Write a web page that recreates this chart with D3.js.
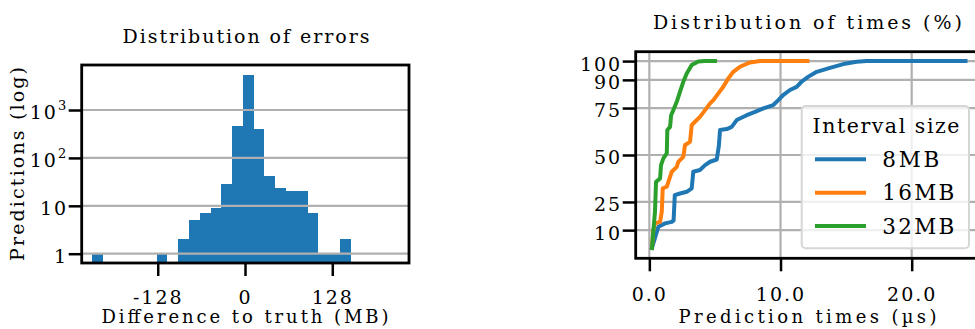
<!DOCTYPE html>
<html><head><meta charset="utf-8">
<script src="https://cdn.jsdelivr.net/npm/d3@7"></script>
<style>
html,body{margin:0;padding:0;background:#fff;}
svg{display:block;background:#fff;}
text{font-family:"DejaVu Serif",serif;fill:#000;}
</style></head><body>
<svg id="chart" width="975" height="329"></svg>
<script>
// ---------- DATA ----------
// Left: histogram of prediction errors (MB), log counts
const errorBinEdges = [-224.3,-208.5,-192.7,-176.9,-161.1,-145.3,-129.5,-113.7,-97.9,-82.1,-66.3,-50.5,-34.7,-18.9,-3.1,12.7,28.5,44.3,60.1,75.9,91.7,107.5,123.3,139.1,154.9];
const errorCounts   = [1,0,0,0,0,0,1,0,2,5,7,9,28,460,5300,400,41,24,20,20,7,1,1,2];
const errorXTicks = [-128, 0, 128];
const errorXTickLabels = ["-128", "0", "128"];
const errorYTicks = [1, 10, 100, 1000];
const errorYTickBase = ["1", "10", "10", "10"];
const errorYTickExp  = ["", "", "2", "3"];

// Right: cumulative distribution of prediction times (µs, %)
const seriesNames = ["8MB", "16MB", "32MB"];
const seriesColors = ["#1f77b4", "#ff7f0e", "#2ca02c"];
const times8MB = [[0.2,0.5],[0.69,11.8],[1.2,13.6],[1.71,14.4],[1.85,15.2],[1.94,28.6],[2.34,29.5],[2.85,30.4],[3.23,32.2],[3.35,41.1],[3.86,42],[4.25,44.6],[4.63,46.4],[5.14,47.6],[5.3,55],[5.39,63.3],[5.9,63.8],[6.28,65],[6.66,68.6],[7.42,71.2],[8.06,73],[8.69,74.8],[9.45,76.6],[9.83,79.2],[10.2,81.9],[10.72,84.6],[11.23,86.3],[11.6,89],[12.1,91.6],[12.76,94.3],[13.77,96.4],[14.79,98.4],[15.8,99.6],[16.57,100],[24.1,100]];
const times16MB = [[0.2,0.5],[0.3,10],[0.43,13.6],[0.82,14.4],[0.95,20],[1.02,32.2],[1.33,33.1],[1.58,38.4],[1.71,41.1],[2.09,43.7],[2.21,46.4],[2.59,49],[2.72,55.3],[3.1,57],[3.23,65.9],[3.48,67.7],[3.86,70.3],[4.25,73.9],[4.63,77.5],[4.88,79.2],[5.26,82.8],[5.64,86.3],[6.02,90.8],[6.4,94.3],[6.91,97],[7.68,99.3],[8.44,100],[12.05,100]];
const times32MB = [[0.2,0.5],[0.3,9.1],[0.43,19.8],[0.51,35.7],[0.82,37.5],[0.89,44.6],[1.07,48.2],[1.33,50.9],[1.37,63.3],[1.58,65],[1.66,71.2],[1.83,73.9],[2.09,78.3],[2.34,83.7],[2.59,89],[2.85,93.4],[3.23,97.9],[3.73,99.8],[4.2,100],[5.0,100]];
const timeXTicks = [0, 10, 20];
const timeXTickLabels = ["0.0", "10.0", "20.0"];
const timeYTicks = [10, 25, 50, 75, 90, 100];

// ---------- STYLE ----------
const GRID = "#b0b0b0", GRIDW = 2.2, SPINEW = 2.8, TICKLEN = 13, TICKW = 2.5;
const svg = d3.select("#chart");

function fitText(sel, w) { sel.attr("textLength", w).attr("lengthAdjust", "spacing"); }

// ================= LEFT: histogram =================
const L = {x0: 81.7, x1: 409, y0: 65, y1: 263};
const xE = d3.scaleLinear().domain([-239.5, 240.5]).range([L.x0, L.x1]);
const yE = d3.scaleLog().domain([0.64, 8700]).range([L.y1, L.y0]);
const gL = svg.append("g");

const bins = errorCounts.map((c, i) => ({x0: errorBinEdges[i], x1: errorBinEdges[i + 1], c})).filter(d => d.c > 0);
gL.append("g").attr("shape-rendering", "crispEdges").selectAll("rect").data(bins).join("rect")
  .attr("x", d => Math.round(xE(d.x0))).attr("width", d => Math.round(xE(d.x1)) - Math.round(xE(d.x0)))
  .attr("y", d => yE(d.c)).attr("height", d => yE.range()[0] - yE(d.c))
  .attr("fill", "#1f77b4");

// horizontal grid (on top of bars)
gL.append("g").selectAll("line").data(errorYTicks).join("line")
  .attr("x1", L.x0).attr("x2", L.x1).attr("y1", d => yE(d)).attr("y2", d => yE(d))
  .attr("stroke", GRID).attr("stroke-width", GRIDW);

// axes
gL.append("g").attr("transform", `translate(0,${L.y1})`)
  .call(d3.axisBottom(xE).tickValues(errorXTicks).tickSize(TICKLEN).tickPadding(14.5).tickFormat((d, i) => errorXTickLabels[i]));
const axLy = gL.append("g").attr("transform", `translate(${L.x0},0)`)
  .call(d3.axisLeft(yE).tickValues(errorYTicks).tickSize(TICKLEN).tickPadding(0.5).tickFormat(""));
axLy.selectAll(".tick text").each(function(d, i) {
  const t = d3.select(this);
  t.text(null).attr("dy", "0.47em");
  t.append("tspan").text(errorYTickBase[i]);
  if (errorYTickExp[i]) t.append("tspan").attr("dy", -9).attr("font-size", 13).text(errorYTickExp[i]);
});
// spines
gL.append("rect").attr("x", L.x0).attr("y", L.y0).attr("width", L.x1 - L.x0).attr("height", L.y1 - L.y0)
  .attr("fill", "none").attr("stroke", "#000").attr("stroke-width", SPINEW);

gL.append("text").attr("x", 246).attr("y", 43.3).attr("text-anchor", "middle").attr("font-size", 19)
  .text("Distribution of errors").call(fitText, 247);
gL.append("text").attr("x", 245).attr("y", 323.3).attr("text-anchor", "middle").attr("font-size", 18)
  .text("Difference to truth (MB)").call(fitText, 287);
gL.append("text").attr("transform", "translate(24,164) rotate(-90)").attr("text-anchor", "middle").attr("font-size", 19)
  .text("Predictions (log)").call(fitText, 194);

// ================= RIGHT: CDF lines =================
const R = {x0: 635.7, x1: 978.6, y0: 51.7, y1: 258.3};
const xT = d3.scaleLinear().domain([-1.04, 25.1]).range([R.x0, R.x1]);
const yT = d3.scaleLinear().domain([-5, 105]).range([R.y1, R.y0]);
const gR = svg.append("g");
svg.append("defs").append("clipPath").attr("id", "clipR").append("rect")
  .attr("x", R.x0).attr("y", R.y0).attr("width", R.x1 - R.x0).attr("height", R.y1 - R.y0);

// grids
gR.append("g").selectAll("line").data(timeYTicks).join("line")
  .attr("x1", R.x0).attr("x2", R.x1).attr("y1", d => yT(d)).attr("y2", d => yT(d))
  .attr("stroke", GRID).attr("stroke-width", GRIDW);
gR.append("g").selectAll("line").data(timeXTicks).join("line")
  .attr("y1", R.y0).attr("y2", R.y1).attr("x1", d => xT(d)).attr("x2", d => xT(d))
  .attr("stroke", GRID).attr("stroke-width", GRIDW);

const lineGen = d3.line().x(d => xT(d[0])).y(d => yT(d[1]));
const allSeries = [times8MB, times16MB, times32MB];
gR.append("g").attr("clip-path", "url(#clipR)").selectAll("path").data(allSeries).join("path")
  .attr("d", lineGen).attr("fill", "none")
  .attr("stroke", (d, i) => seriesColors[i]).attr("stroke-width", 4)
  .attr("stroke-linecap", "square").attr("stroke-linejoin", "round");

gR.append("g").attr("transform", `translate(0,${R.y1})`)
  .call(d3.axisBottom(xT).tickValues(timeXTicks).tickSize(TICKLEN).tickPadding(16.5).tickFormat((d, i) => timeXTickLabels[i]));
const axRy = gR.append("g").attr("transform", `translate(${R.x0},0)`)
  .call(d3.axisLeft(yT).tickValues(timeYTicks).tickSize(TICKLEN).tickPadding(0.5).tickFormat(d => String(d)));
axRy.selectAll(".tick text").attr("dy", "0.47em");

gR.append("rect").attr("x", R.x0).attr("y", R.y0).attr("width", R.x1 - R.x0).attr("height", R.y1 - R.y0)
  .attr("fill", "none").attr("stroke", "#000").attr("stroke-width", SPINEW);

gR.append("text").attr("x", 807.4).attr("y", 29.3).attr("text-anchor", "middle").attr("font-size", 19)
  .text("Distribution of times (%)").call(fitText, 309);
gR.append("text").attr("x", 807.5).attr("y", 322.7).attr("text-anchor", "middle").attr("font-size", 18)
  .text("Prediction times (µs)").call(fitText, 258);

// legend
const lg = gR.append("g");
lg.append("rect").attr("x", 801.7).attr("y", 106).attr("width", 167.3).attr("height", 142.3).attr("rx", 4)
  .attr("fill", "#fff").attr("fill-opacity", 0.8).attr("stroke", "#d6d6d6").attr("stroke-width", 2);
lg.append("text").attr("x", 886).attr("y", 132.7).attr("text-anchor", "middle").attr("font-size", 20.5)
  .text("Interval size").call(fitText, 147);
const legW = [57, 72, 72];
const legY = [159.3, 192.7, 226];
seriesNames.forEach((name, i) => {
  lg.append("line").attr("x1", 817).attr("x2", 864).attr("y1", legY[i]).attr("y2", legY[i])
    .attr("stroke", seriesColors[i]).attr("stroke-width", 4).attr("stroke-linecap", "square");
  lg.append("text").attr("x", 882.3).attr("y", legY[i] + 7.6).attr("font-size", 21.5)
    .text(name).call(fitText, legW[i]);
});

// common axis styling
svg.selectAll(".domain").remove();
svg.selectAll(".tick line").attr("stroke", "#000").attr("stroke-width", TICKW);
svg.selectAll(".tick text").attr("font-family", "DejaVu Serif").attr("font-size", 19)
  .attr("fill", "#000").style("letter-spacing", "2px");
</script>
</body></html>
